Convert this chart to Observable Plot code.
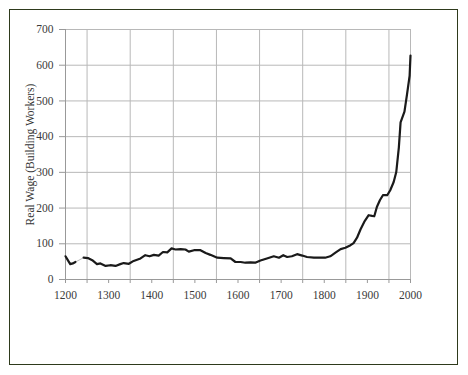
<!DOCTYPE html>
<html>
<head>
<meta charset="utf-8">
<script src="https://cdn.jsdelivr.net/npm/d3@7"></script>
<script src="https://cdn.jsdelivr.net/npm/@observablehq/plot@0.6"></script>
<style>
  html, body { margin: 0; padding: 0; background: #fff; }
  #wrap { position: relative; width: 468px; height: 375px; overflow: hidden; }
  #frame { position: absolute; left: 9px; top: 9px; width: 447px; height: 354px; border: 1.5px solid #2e3a1c; pointer-events: none; }
  #chart { position: absolute; left: 0; top: 0; }
  #chart svg, #chart svg text { font-family: "Liberation Serif", "Times New Roman", serif; }
</style>
</head>
<body>
<div id="wrap">
  <div id="chart"></div>
  <div id="frame"></div>
</div>
<script>
const years = [1200,1205,1211,1217,1223,1232,1242,1252,1262,1273,1281,1293,1304,1316,1327,1335,
  1347,1358,1374,1385,1395,1405,1416,1426,1436,1446,1455,1467,1478,1486,1498,1513,1525,1536,1552,1567,
  1583,1594,1606,1617,1629,1640,1652,1667,1683,1695,1705,1714,1725,1737,1749,1760,1776,1791,1802,1814,
  1826,1838,1849,1861,1868,1876,1884,1893,1903,1911,1916,1922,1929,1936,1946,1953,1961,1967,1973,1977,
  1986,1992,1998,2000];
const wages = [65,55,43,45,49,null,61,60,54,43,45,38,40,38,43,46,
  44,52,59,68,65,69,67,77,76,87,84,85,84,78,82,82,74,69,61,60,
  59,49,49,47,48,47,53,59,65,61,68,63,65,71,67,63,61,61,61,65,
  75,85,89,96,102,117,140,162,180,178,177,203,222,236,236,250,273,301,370,440,
  470,519,571,627];
const xTicks = [1200,1250,1300,1350,1400,1450,1500,1550,1600,1650,1700,1750,1800,1850,1900,1950,2000];
const xGrid = [1250,1350,1450,1550,1650,1750,1850,1950,2000];
const yTicks = [0,100,200,300,400,500,600,700];
const yLabel = "Real Wage (Building Workers)";

const data = years.map((y, i) => ({year: y, wage: wages[i]}));
const present = data.filter(d => d.wage != null);

const font = "Liberation Serif, Times New Roman, serif";

const chart = Plot.plot({
  width: 468,
  height: 375,
  marginLeft: 65,
  marginRight: 58,
  marginTop: 29,
  marginBottom: 96,
  style: {fontFamily: font, fontSize: "11px", color: "#3a3a3a", background: "transparent"},
  x: {domain: [1200, 2000]},
  y: {domain: [0, 700]},
  marks: [
    Plot.gridY(yTicks.filter(v => v > 0), {stroke: "#b8b8b8", strokeOpacity: 1}),
    Plot.gridX(xGrid, {stroke: "#b8b8b8", strokeOpacity: 1}),
    Plot.ruleX([1200], {stroke: "#999", strokeWidth: 1}),
    Plot.ruleY([0], {stroke: "#999", strokeWidth: 1}),
    Plot.axisY(yTicks, {tickSize: 6, tickPadding: 6, stroke: "#999", label: null, fontSize: 11.5, fontFamily: font}),
    Plot.axisX(xTicks, {tickSize: 4, tickPadding: 7, stroke: "#999", label: null, fontSize: 11.5, fontFamily: font,
      tickFormat: d => d % 100 === 0 ? String(d) : ""}),
    Plot.text([yLabel], {frameAnchor: "left", textAnchor: "middle", dx: -35, dy: 0, rotate: -90, fontSize: 11.5, fontFamily: font, fill: "#333"}),
    Plot.line(present, {x: "year", y: "wage", stroke: "#bbb", strokeWidth: 1}),
    Plot.line(data, {x: "year", y: "wage", stroke: "#1a1a1a", strokeWidth: 2.2, strokeLinejoin: "round", strokeLinecap: "round"})
  ]
});
document.getElementById("chart").appendChild(chart);
</script>
</body>
</html>
